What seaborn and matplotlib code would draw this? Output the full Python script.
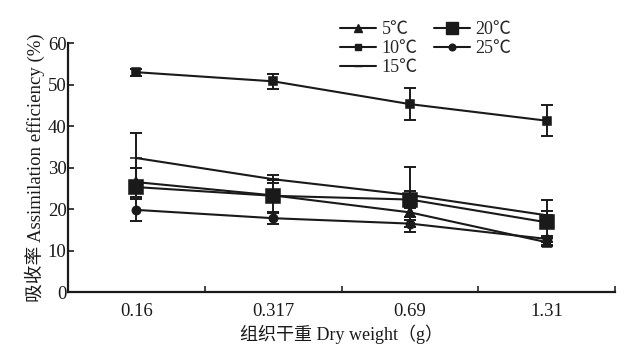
import numpy as np
import matplotlib
matplotlib.use('Agg')
import matplotlib.pyplot as plt
from matplotlib.lines import Line2D
import seaborn as sns

# dry weight classes (g)
weights = ['0.16', '0.317', '0.69', '1.31']

# assimilation efficiency (%) per temperature
t5 = [26.5, 23.3, 19.2, 12.0]
t10 = [53.0, 50.8, 45.3, 41.3]
t15 = [32.3, 27.2, 23.4, 18.5]
t20 = [25.3, 23.2, 22.3, 16.8]
t25 = [19.8, 17.8, 16.5, 12.8]

# error bars (one side, %)
e5 = [3.5, 1.0, 1.0, 1.0]
e10 = [0.8, 1.8, 3.8, 3.8]
e15 = [6.0, 1.0, 1.0, 1.0]
e20 = [1.5, 3.8, 7.8, 5.5]
e25 = [2.7, 1.3, 0.8, 0.8]

series = [
    ('5℃', t5, e5, '^', 7),
    ('10℃', t10, e10, 's', 6),
    ('15℃', t15, e15, '_', 8),
    ('20℃', t20, e20, 's', 10),
    ('25℃', t25, e25, 'o', 6),
]

sns.set_theme(style='ticks')
plt.rcParams['font.family'] = ['Liberation Serif', 'Noto Sans CJK SC', 'DejaVu Sans']
plt.rcParams['axes.unicode_minus'] = False

fig, ax = plt.subplots(figsize=(6.24, 3.51), dpi=100)
fig.subplots_adjust(left=0.109, right=0.986, bottom=0.168, top=0.877)

handles = []
for name, vals, errs, mk, ms in series:
    sns.pointplot(x=weights, y=vals, color='k', markers=mk, linestyles='-',
                  markersize=ms, linewidth=1.5, ax=ax)
    pos = np.arange(len(weights))
    ax.errorbar(pos, vals, yerr=errs, fmt='none', ecolor='k', elinewidth=1.4,
                capsize=4, capthick=1.4)
    handles.append(Line2D([], [], color='k', lw=1.5, marker=mk, markersize=ms * 0.8,
                          label=name))

ax.set_xlim(-0.5, len(weights) - 0.5)
ax.set_ylim(0, 60)
ax.set_yticks(range(0, 61, 10))
ax.set_xticks(np.arange(len(weights)) + 0.5, minor=True)
ax.tick_params(axis='x', which='major', length=0, labelsize=13.5, pad=8)
ax.tick_params(axis='x', which='minor', direction='in', length=4, width=1.2)
ax.tick_params(axis='y', direction='in', length=4, width=1.2, labelsize=13.5, pad=1)
ax.tick_params(colors='k')

sns.despine(ax=ax)
for s in ['left', 'bottom']:
    ax.spines[s].set_linewidth(1.6)
    ax.spines[s].set_color('k')

ax.set_xlabel('组织干重 Dry weight（g）', fontsize=13, color='k', labelpad=3)
ax.set_ylabel('吸收率 Assimilation efficiency (%)', fontsize=13.5, color='k', labelpad=2)

fig.legend(handles=handles, ncol=2, loc='upper left', bbox_to_anchor=(0.525, 0.975),
           frameon=False, fontsize=13, handlelength=2.0, handletextpad=0.3,
           columnspacing=0.9, labelspacing=0.1, borderpad=0.2)

fig.savefig('out.png', dpi=100, facecolor='white')
